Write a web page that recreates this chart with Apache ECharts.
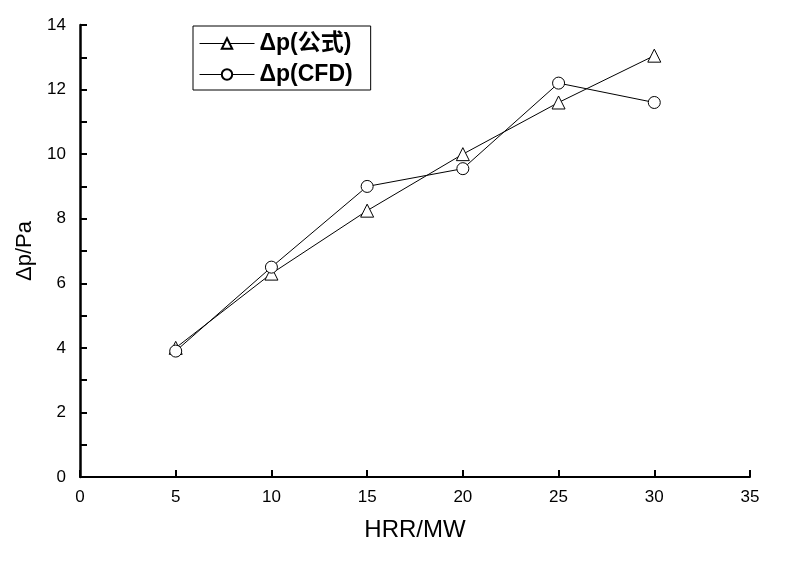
<!DOCTYPE html>
<html><head><meta charset="utf-8">
<script src="https://cdn.jsdelivr.net/npm/echarts@6/dist/echarts.min.js"></script>
<style>html,body{margin:0;padding:0;background:#fff}#c{width:805px;height:564px}</style>
</head><body><div id="c"></div>
<script>
const xValues = [5, 10, 15, 20, 25, 30];
const formulaValues = [4.0, 6.3, 8.25, 10.0, 11.6, 13.05];
const cfdValues = [3.9, 6.5, 9.0, 9.55, 12.2, 11.6];
const seriesNames = ['Δp(公式)', 'Δp(CFD)'];
const xAxisName = 'HRR/MW';
const yAxisName = 'Δp/Pa';

const font = "'Liberation Sans', Arial, 'Noto Sans CJK SC', sans-serif";
const chart = echarts.init(document.getElementById('c'));
const pair = (ys) => xValues.map((x, i) => [x, ys[i]]);
chart.setOption({
  animation: false,
  backgroundColor: '#fff',
  grid: {left: 80, right: 55, top: 25, bottom: 87, containLabel: false},
  legend: {
    left: 193, top: 26, orient: 'vertical',
    borderColor: '#000', borderWidth: 1, padding: [6, 18, 4, 6],
    itemGap: 8, itemWidth: 55, itemHeight: 13,
    lineStyle: {width: 1},
    textStyle: {fontFamily: font, fontSize: 23, color: '#000', fontWeight: 'bold'},
    data: seriesNames
  },
  xAxis: {
    type: 'value', min: 0, max: 35, interval: 5,
    name: xAxisName, nameLocation: 'middle', nameGap: 41,
    nameTextStyle: {fontFamily: font, fontSize: 24, color: '#000'},
    axisLine: {show: true, onZero: false, lineStyle: {color: '#000', width: 2}},
    axisTick: {show: true, inside: true, length: 7, lineStyle: {color: '#000', width: 2}},
    axisLabel: {fontFamily: font, fontSize: 17, color: '#000', margin: 12},
    splitLine: {show: false}
  },
  yAxis: {
    type: 'value', min: 0, max: 14, interval: 2,
    name: yAxisName, nameLocation: 'middle', nameGap: 40,
    nameTextStyle: {fontFamily: font, fontSize: 22, color: '#000'},
    axisLine: {show: true, lineStyle: {color: '#000', width: 2.5}},
    axisTick: {show: true, inside: true, length: 7, lineStyle: {color: '#000', width: 2}},
    minorTick: {show: true, splitNumber: 2, length: 7, lineStyle: {color: '#000', width: 2}},
    axisLabel: {fontFamily: font, fontSize: 17, color: '#000', margin: 14},
    splitLine: {show: false}
  },
  series: [
    {
      name: seriesNames[0], type: 'line', data: pair(formulaValues),
      symbol: 'triangle', symbolSize: 13,
      lineStyle: {color: '#000', width: 1},
      itemStyle: {color: '#fff', borderColor: '#000', borderWidth: 1}
    },
    {
      name: seriesNames[1], type: 'line', data: pair(cfdValues),
      symbol: 'circle', symbolSize: 12,
      lineStyle: {color: '#000', width: 1},
      itemStyle: {color: '#fff', borderColor: '#000', borderWidth: 1}
    }
  ]
});
</script></body></html>
